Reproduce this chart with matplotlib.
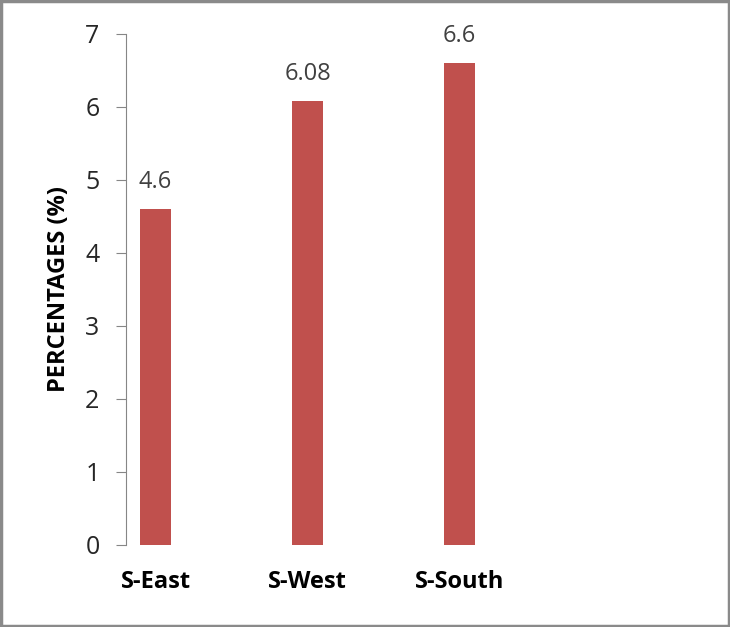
import matplotlib.pyplot as plt
from matplotlib.patches import Rectangle

regions = ["S-East", "S-West", "S-South"]
percentages = [4.6, 6.08, 6.6]
value_labels = ["4.6", "6.08", "6.6"]

bar_color = "#C0504D"
axis_color = "#868686"

plt.rcParams['font.family'] = ['Open Sans', 'DejaVu Sans']

fig = plt.figure(figsize=(7.3, 6.27), dpi=100)
ax = fig.add_axes([0.1726, 0.1308, 0.75, 0.815])

x = list(range(len(regions)))
ax.bar(x, percentages, width=0.204, color=bar_color)

for xi, v, lab in zip(x, percentages, value_labels):
    ax.annotate(lab, (xi, v), xytext=(0, 11), textcoords="offset points",
                ha="center", va="bottom", fontsize=17, color="#404040")

ax.set_xlim(-0.194, 3.406)
ax.set_ylim(0, 7)
ax.set_yticks(range(0, 8))
ax.set_xticks(x)
ax.set_xticklabels(regions, fontsize=17, fontweight="bold")
ax.set_ylabel("PERCENTAGES (%)", fontsize=17, fontweight="bold", labelpad=10)

for s in ["top", "right", "bottom"]:
    ax.spines[s].set_visible(False)
ax.spines["left"].set_color(axis_color)
ax.tick_params(axis="y", length=7, color=axis_color, labelsize=18,
               labelcolor="#262626", pad=12)
ax.tick_params(axis="x", length=0, pad=18)

fig.patches.append(Rectangle((0.002, 0.002), 0.996, 0.996, transform=fig.transFigure,
                             fill=False, edgecolor="#8a8a8a", linewidth=2.5))

plt.savefig("out.png", dpi=100)
